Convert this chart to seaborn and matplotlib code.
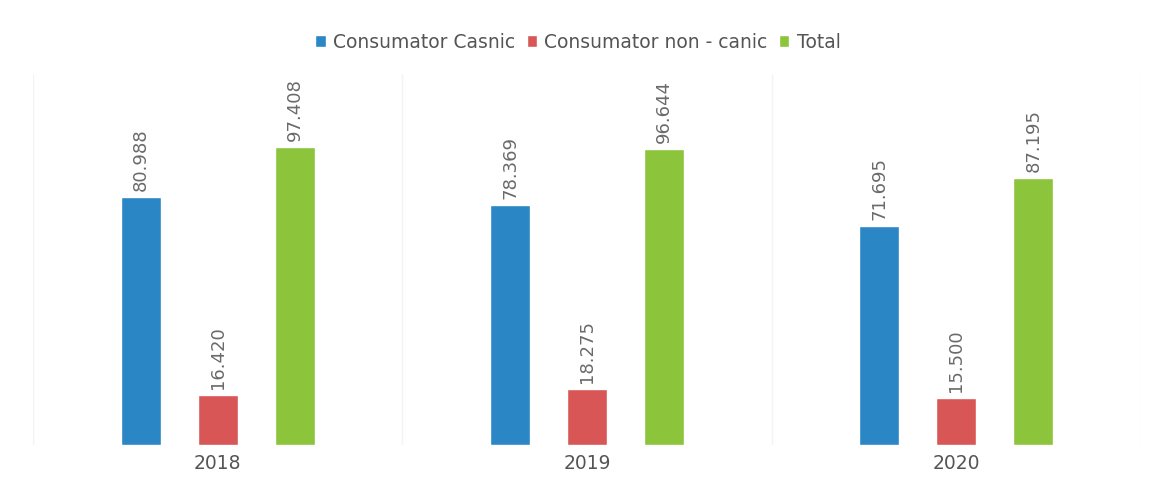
import matplotlib
matplotlib.use("Agg")
import matplotlib.pyplot as plt
import seaborn as sns
import pandas as pd
import numpy as np

years = ["2018", "2019", "2020"]
series_names = ["Consumator Casnic", "Consumator non - canic", "Total"]
casnic = [80.988, 78.369, 71.695]
non_casnic = [16.420, 18.275, 15.500]
total = [97.408, 96.644, 87.195]
colors = ["#2a86c4", "#d85656", "#8cc43c"]

rows = []
for name, vals in zip(series_names, [casnic, non_casnic, total]):
    for y, v in zip(years, vals):
        rows.append({"year": y, "series": name, "value": v})
df = pd.DataFrame(rows)

sns.set_theme(style="white")
plt.rcParams["font.family"] = ["DejaVu Sans"]

fig = plt.figure(figsize=(11.56, 5.02), dpi=100)
ax = fig.add_axes([33/1156, 1 - 446/502, (1141-33)/1156, (446-75)/502])

sns.barplot(data=df, x="year", y="value", hue="series", order=years,
            hue_order=series_names, palette=colors, width=0.625, gap=0.48,
            saturation=1, ax=ax, legend=True)

ax.set_xlim(-0.5, 2.5)
ax.set_ylim(0, 121.3)
ax.set_xlabel("")
ax.set_ylabel("")
ax.set_yticks([])
ax.set_xticks(range(len(years)))
ax.set_xticklabels(years, color="#555555", fontsize=13.5)
ax.tick_params(axis="x", length=0, pad=6)
for s in ax.spines.values():
    s.set_visible(False)

for xb in [-0.5, 0.5, 1.5, 2.5]:
    ax.axvline(xb, color="#f3f3f3", lw=1, zorder=0)

for cont in ax.containers:
    for bar in cont:
        h = bar.get_height()
        ax.annotate(f"{h:.3f}", (bar.get_x() + bar.get_width()/2, h),
                    xytext=(0, 5), textcoords="offset points",
                    rotation=90, ha="center", va="bottom",
                    fontsize=13, color="#6a6a6a")

handles, labels = ax.get_legend_handles_labels()
ax.legend_.remove()
fig.legend(handles, labels, loc="center", bbox_to_anchor=(0.5, 1 - 43/502),
           ncol=3, frameon=False, fontsize=13.5, handlelength=0.55,
           handleheight=0.55, handletextpad=0.4, columnspacing=0.6,
           labelcolor="#555555")

fig.savefig("out.png", dpi=100, facecolor="white")
